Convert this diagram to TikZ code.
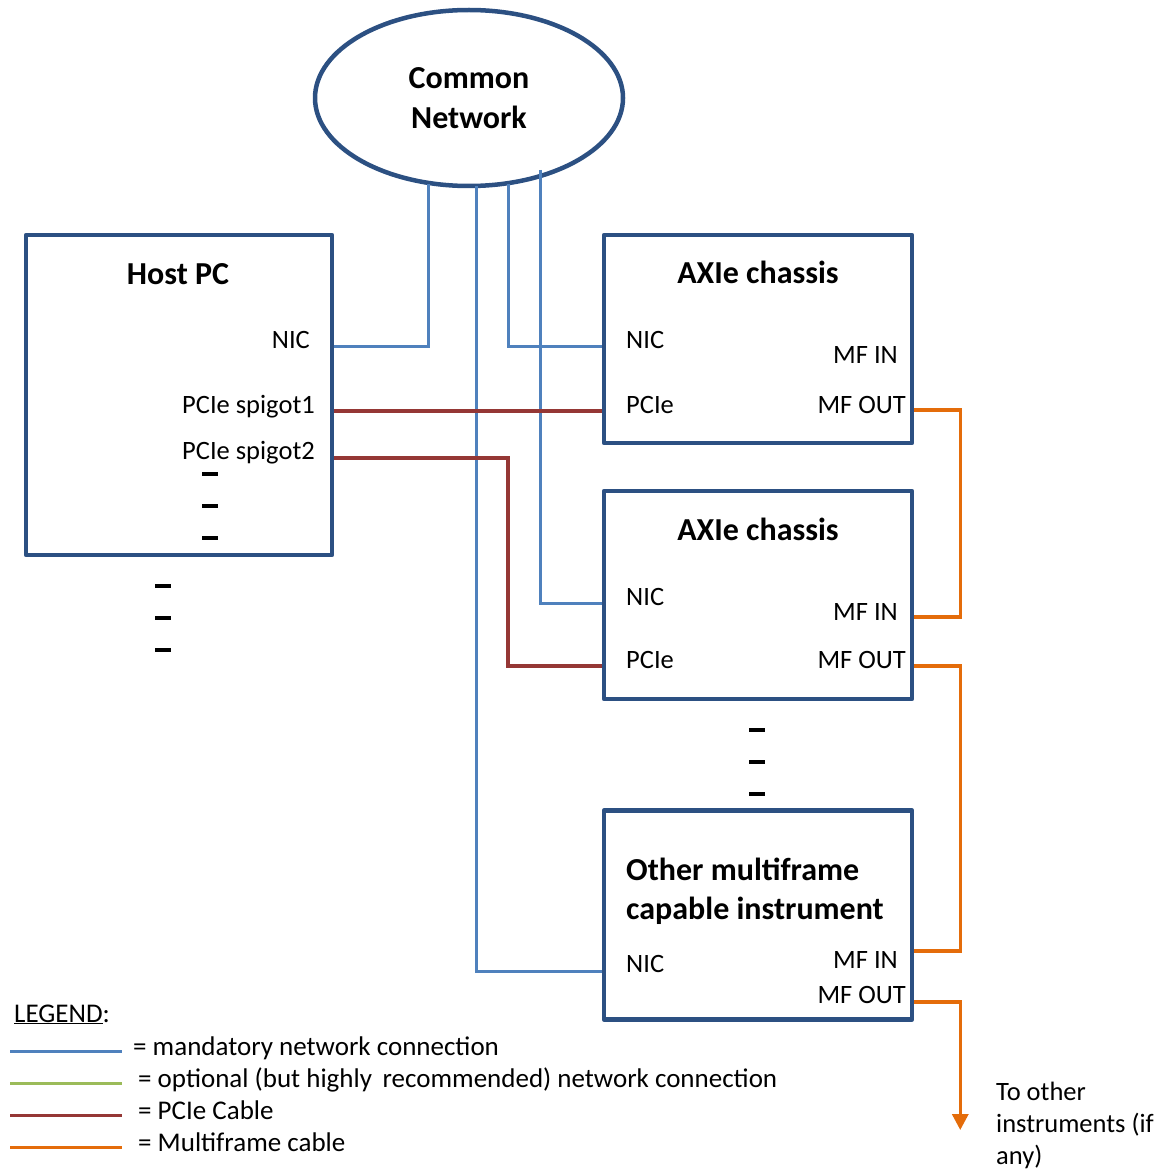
\documentclass[tikz,border=0pt]{standalone}
\usepackage{fontspec}
\setmainfont{Carlito}
\usetikzlibrary{arrows.meta,shapes.geometric}
\definecolor{boxblue}{RGB}{44,80,130}
\definecolor{netblue}{RGB}{79,129,189}
\definecolor{optgreen}{RGB}{155,187,89}
\definecolor{pcired}{RGB}{149,55,53}
\definecolor{mforange}{RGB}{228,108,10}
\tikzset{
  unit/.style={draw=boxblue, line width=4.5pt, line join=round, inner sep=0pt},
  title/.style={font=\fontsize{32}{40}\selectfont\bfseries, inner sep=0pt},
  port/.style={font=\fontsize{26.5}{32}\selectfont, inner sep=0pt},
  legtext/.style={font=\fontsize{27}{32}\selectfont, inner sep=0pt},
  netline/.style={netblue, line width=3pt},
  pciline/.style={pcired, line width=3.2pt},
  mfline/.style={mforange, line width=3.4pt},
  dashbar/.style={line width=3.5pt},
}
\begin{document}
\begin{tikzpicture}[x=1pt,y=-1pt]
  \useasboundingbox (0,0) rectangle (1167,1169);
  % the network
  \node[unit, ellipse, minimum width=308, minimum height=176, title, align=center,
        draw=boxblue, line width=4.5pt] (net) at (469,98) {Common\\Network};
  \coordinate (tap1) at (428,184);
  \coordinate (tap2) at (476,186);
  \coordinate (tap3) at (508,184);
  \coordinate (tap4) at (540,170);

  % host PC
  \node[unit, minimum width=306, minimum height=320] (host) at (179,395) {};
  \node[title, anchor=base] (hosttitle) at (178,284) {Host PC};
  \node[port, anchor=base east] (hnic) at (310,348) {NIC};
  \node[port, anchor=base east] (hspig1) at (315,413) {PCIe spigot1};
  \node[port, anchor=base east] (hspig2) at (315,459) {PCIe spigot2};
  \foreach \y in {474,506,538} \draw[dashbar] (202,\y) -- (218,\y);
  \foreach \y in {586,618,650} \draw[dashbar] (155,\y) -- (171,\y);

  % first chassis
  \node[unit, minimum width=308, minimum height=208] (axa) at (758,339) {};
  \node[title, anchor=base] (axatitle) at (758,283) {AXIe chassis};
  \node[port, anchor=base west] (anic) at (626,348) {NIC};
  \node[port, anchor=base west] (apcie) at (626,413) {PCIe};
  \node[port, anchor=base east] (amfin) at (898,363) {MF IN};
  \node[port, anchor=base east] (amfout) at (906,413) {MF OUT};

  % second chassis
  \node[unit, minimum width=308, minimum height=208] (axb) at (758,595) {};
  \node[title, anchor=base] (axbtitle) at (758,540) {AXIe chassis};
  \node[port, anchor=base west] (bnic) at (626,605) {NIC};
  \node[port, anchor=base west] (bpcie) at (626,668) {PCIe};
  \node[port, anchor=base east] (bmfin) at (898,620) {MF IN};
  \node[port, anchor=base east] (bmfout) at (906,668) {MF OUT};
  \foreach \y in {730,762,794} \draw[dashbar] (749,\y) -- (765,\y);

  % other instrument
  \node[unit, minimum width=308, minimum height=209] (oth) at (758,915) {};
  \node[title, anchor=base west] (othtitle) at (626,880) {Other multiframe};
  \node[title, anchor=base west] (othtitleb) at (626,919) {capable instrument};
  \node[port, anchor=base west] (onic) at (626,972) {NIC};
  \node[port, anchor=base east] (omfin) at (898,968) {MF IN};
  \node[port, anchor=base east] (omfout) at (906,1003) {MF OUT};

  % network cables
  \draw[netline] ([yshift=2pt]hnic.base -| host.east) -| (tap1);
  \draw[netline] (tap3) |- ([yshift=2pt]anic.base -| axa.west);
  \draw[netline] (tap4) |- ([yshift=2pt]bnic.base -| axb.west);
  \draw[netline] (tap2) |- ([yshift=1pt]onic.base -| oth.west);

  % pcie cables
  \draw[pciline] ([yshift=2pt]hspig1.base -| host.east) -- ([yshift=2pt]hspig1.base -| axa.west);
  \draw[pciline] ([yshift=1pt]hspig2.base -| host.east) -| ([yshift=2pt]bpcie.base -| tap3)
    -- ([yshift=2pt]bpcie.base -| axb.west);

  % multiframe cables
  \draw[mfline] ([yshift=3pt]amfout.base -| axa.east) -- ++(46,0) |- ([yshift=3pt]bmfin.base -| axb.east);
  \draw[mfline] ([yshift=2pt]bmfout.base -| axb.east) -- ++(46,0) |- (omfin.north -| oth.east);
  \draw[mfline, -{Triangle[width=16pt,length=16pt]}] ([yshift=1pt]omfout.base -| oth.east)
    -- ++(46,0) -- ++(0,128);
  \node[port, anchor=north west, align=left] (toother) at (996,1082) {To other\\instruments (if\\any)};

  % legend
  \node[legtext, anchor=base west] (legend) at (14,1022) {\underline{LEGEND}:};
  \foreach \col/\x/\txt [count=\i] in {netblue/133/{= mandatory network connection},
      optgreen/138/{= optional (but highly\, recommended) network connection},
      pcired/138/{= PCIe Cable}, mforange/138/{= Multiframe cable}} {
    \draw[\col, line width=3pt] (10,1019+32*\i) -- (122,1019+32*\i);
    \node[legtext, anchor=base west] (leg\i) at (\x,1023+32*\i) {\txt};
  }
\end{tikzpicture}
\end{document}
